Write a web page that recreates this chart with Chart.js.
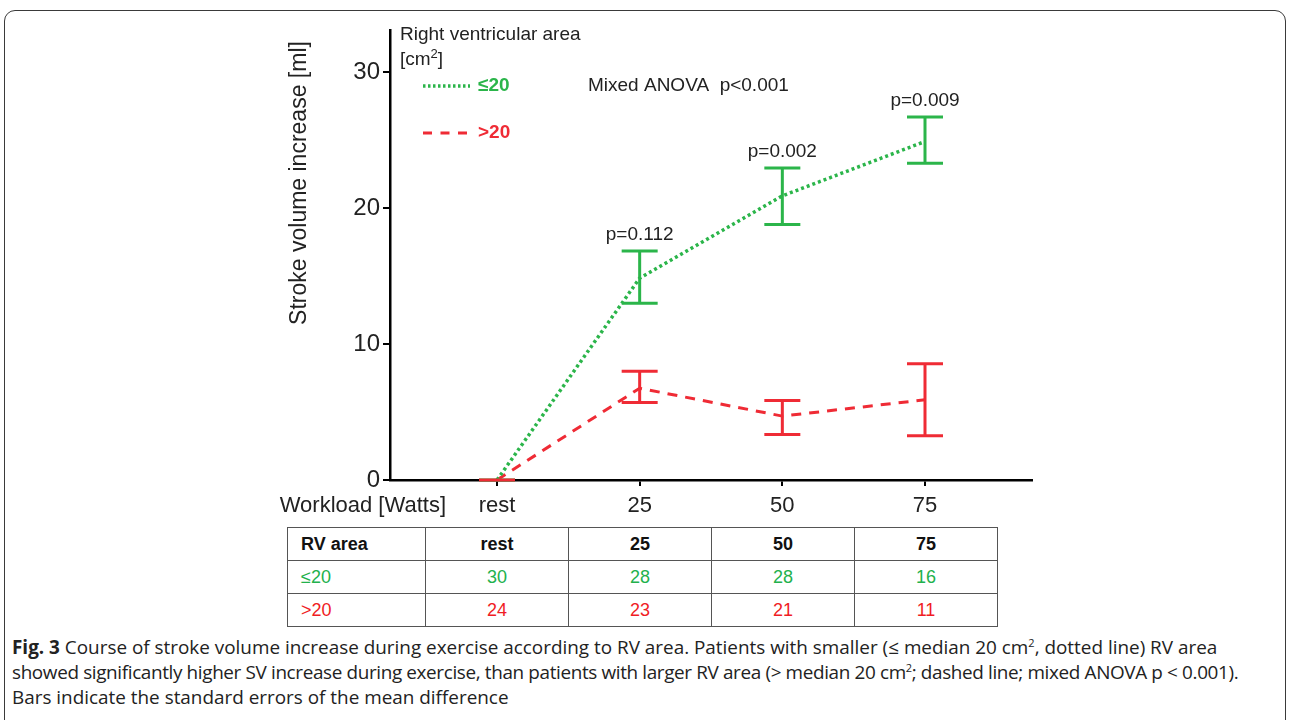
<!DOCTYPE html>
<html>
<head>
<meta charset="utf-8">
<script src="https://cdn.jsdelivr.net/npm/chart.js@4"></script>
<style>
  html, body { margin:0; padding:0; background:#fff; width:1292px; height:720px; overflow:hidden; }
  #frame { position:absolute; left:4px; top:10px; width:1282px; height:780px; border:1.5px solid #3a3a3a; border-radius:11px; box-sizing:border-box; }
  #chart { position:absolute; left:0; top:0; }
  #tbl { position:absolute; left:287px; top:527px; width:711px; table-layout:fixed; border-collapse:collapse; font-family:'Liberation Sans', Arial, sans-serif; font-size:18px; }
  #tbl td { border:1px solid #555; height:33px; padding:0; text-align:center; box-sizing:border-box; }
  #tbl td.first { text-align:left; padding-left:13px; }
  #tbl tr.head td { font-weight:bold; color:#111; }
  #caption { position:absolute; left:12px; top:635px; width:1275px; font-family:'Open Sans', sans-serif; font-size:18.9px; line-height:25px; color:#222; white-space:nowrap; }
  #caption b { font-weight:700; }
  #caption sup { font-size:11px; line-height:0; }
  #caption .tight { letter-spacing:-0.36px; }
</style>
</head>
<body>
<div id="frame"></div>
<canvas id="chart" width="1292" height="520"></canvas>
<table id="tbl"></table>
<div id="caption"><b>Fig. 3</b> Course of stroke volume increase during exercise according to RV area. Patients with smaller (≤ median 20 cm<sup>2</sup>, dotted line) RV area<br><span class="tight">showed significantly higher SV increase during exercise, than patients with larger RV area (&gt; median 20 cm<sup>2</sup>; dashed line; mixed ANOVA p &lt; 0.001).</span><br>Bars indicate the standard errors of the mean difference</div>
<script>
// ── data ──
var xLabels   = ['rest', '25', '50', '75'];
var xPos      = [0, 1, 2, 3];
var yTicks    = [0, 10, 20, 30];
var smallMean = [0, 14.85, 20.9, 24.9];
var smallLow  = [0, 13.0, 18.8, 23.3];
var smallHigh = [0, 16.85, 22.95, 26.7];
var largeMean = [0, 6.75, 4.7, 5.9];
var largeLow  = [0, 5.7, 3.35, 3.25];
var largeHigh = [0, 8.0, 5.85, 8.55];
var pLabels   = ['', 'p=0.112', 'p=0.002', 'p=0.009'];
var tblHead   = ['RV area', 'rest', '25', '50', '75'];
var smallN    = [30, 28, 28, 16];
var largeN    = [24, 23, 21, 11];

var GREEN = '#2bb54a', RED = '#ef2b35';
var TGREEN = '#22b14c', TRED = '#f01c24';
var FONT = "'Liberation Sans', Arial, sans-serif";

// ── table under the chart ──
var widths = [138, 143, 143, 143, 143];
var tbl = document.getElementById('tbl');
function addRow(cells, cls, color) {
  var tr = document.createElement('tr');
  if (cls) tr.className = cls;
  cells.forEach(function(c, i) {
    var td = document.createElement('td');
    td.textContent = c;
    td.style.width = widths[i] + 'px';
    if (i === 0) td.className = 'first';
    if (color) td.style.color = color;
    tr.appendChild(td);
  });
  tbl.appendChild(tr);
}
addRow(tblHead, 'head');
addRow(['≤20'].concat(smallN), '', TGREEN);
addRow(['>20'].concat(largeN), '', TRED);

// ── error bars, legend and labels ──
var decor = {
  id: 'decor',
  afterDatasetsDraw: function(chart) {
    var ctx = chart.ctx, xs = chart.scales.x, ys = chart.scales.y, ca = chart.chartArea;
    ctx.save();
    ctx.setLineDash([]);
    chart.data.datasets.forEach(function(ds) {
      ctx.strokeStyle = ds.borderColor; ctx.lineWidth = 3;
      xPos.forEach(function(xv, i) {
        var px = xs.getPixelForValue(xv), lo = ys.getPixelForValue(ds.low[i]), hi = ys.getPixelForValue(ds.high[i]);
        ctx.beginPath();
        ctx.moveTo(px, lo); ctx.lineTo(px, hi);
        ctx.moveTo(px - 18, lo); ctx.lineTo(px + 18, lo);
        ctx.moveTo(px - 18, hi); ctx.lineTo(px + 18, hi);
        ctx.stroke();
      });
    });
    // p values above the green bars
    ctx.fillStyle = '#222'; ctx.font = '19px ' + FONT; ctx.textAlign = 'center'; ctx.textBaseline = 'middle';
    pLabels.forEach(function(t, i) {
      if (!t) return;
      ctx.fillText(t, xs.getPixelForValue(xPos[i]), ys.getPixelForValue(smallHigh[i]) - 16);
    });
    // legend
    var lx = ca.left;
    ctx.textAlign = 'left';
    ctx.fillText('Right ventricular area', lx + 10, 35);
    ctx.fillText('[cm', lx + 10, 60);
    var w = ctx.measureText('[cm').width;
    ctx.font = '13px ' + FONT; ctx.fillText('2', lx + 10 + w, 54);
    var w2 = ctx.measureText('2').width;
    ctx.font = '19px ' + FONT; ctx.fillText(']', lx + 10 + w + w2, 60);
    ctx.fillText('Mixed ANOVA  p<0.001', 588, 86);
    chart.data.datasets.forEach(function(ds, k) {
      var ly = 86 + k * 47;
      ctx.strokeStyle = ds.borderColor; ctx.lineWidth = ds.borderWidth;
      ctx.setLineDash(ds.legendDash);
      ctx.beginPath(); ctx.moveTo(lx + 33, ly); ctx.lineTo(lx + 80, ly); ctx.stroke();
      ctx.setLineDash([]);
      ctx.fillStyle = ds.borderColor; ctx.font = 'bold 19px ' + FONT;
      ctx.fillText(ds.label, lx + 88, ly);
    });
    // axis titles
    ctx.fillStyle = '#222'; ctx.font = '22px ' + FONT;
    ctx.textAlign = 'right';
    ctx.fillText('Workload [Watts]', 446, 506);
    ctx.save();
    ctx.translate(300, 183); ctx.rotate(-Math.PI / 2);
    ctx.textAlign = 'center'; ctx.font = '23px ' + FONT;
    ctx.fillText('Stroke volume increase [ml]', 0, 0);
    ctx.restore();
    ctx.restore();
  }
};

new Chart(document.getElementById('chart').getContext('2d'), {
  type: 'line',
  data: {
    datasets: [
      { label: '≤20', data: xPos.map(function(x, i){ return { x: x, y: smallMean[i] }; }),
        low: smallLow, high: smallHigh, borderColor: GREEN, borderWidth: 3.5, borderDash: [3, 3], legendDash: [2.5, 2.5],
        pointRadius: 0, tension: 0, fill: false },
      { label: '>20', data: xPos.map(function(x, i){ return { x: x, y: largeMean[i] }; }),
        low: largeLow, high: largeHigh, borderColor: RED, borderWidth: 3, borderDash: [10, 8], legendDash: [9, 8.5],
        pointRadius: 0, tension: 0, fill: false }
    ]
  },
  options: {
    responsive: false, animation: false, devicePixelRatio: 1,
    layout: { padding: { left: 280, right: 260, top: 30, bottom: 0 } },
    plugins: { legend: { display: false }, tooltip: { enabled: false } },
    scales: {
      x: {
        type: 'linear', min: -0.75, max: 3.75,
        afterBuildTicks: function(s){ s.ticks = xPos.map(function(v){ return { value: v }; }); },
        afterFit: function(s){ s.height = 40; },
        ticks: { callback: function(v, i){ return xLabels[i]; }, font: { size: 22, family: FONT }, color: '#222', padding: 7, maxRotation: 0, autoSkip: false },
        grid: { drawOnChartArea: false, drawTicks: true, tickLength: 6, color: '#000', lineWidth: 2 },
        border: { color: '#000', width: 2.5 }
      },
      y: {
        min: 0, max: 33.1,
        afterBuildTicks: function(s){ s.ticks = yTicks.map(function(v){ return { value: v }; }); },
        afterFit: function(s){ s.width = 110; },
        ticks: { font: { size: 24, family: FONT }, color: '#222', padding: 3 },
        grid: { drawOnChartArea: false, drawTicks: true, tickLength: 7, color: '#000', lineWidth: 2 },
        border: { color: '#000', width: 2.5 }
      }
    }
  },
  plugins: [decor]
});
</script>
</body>
</html>
